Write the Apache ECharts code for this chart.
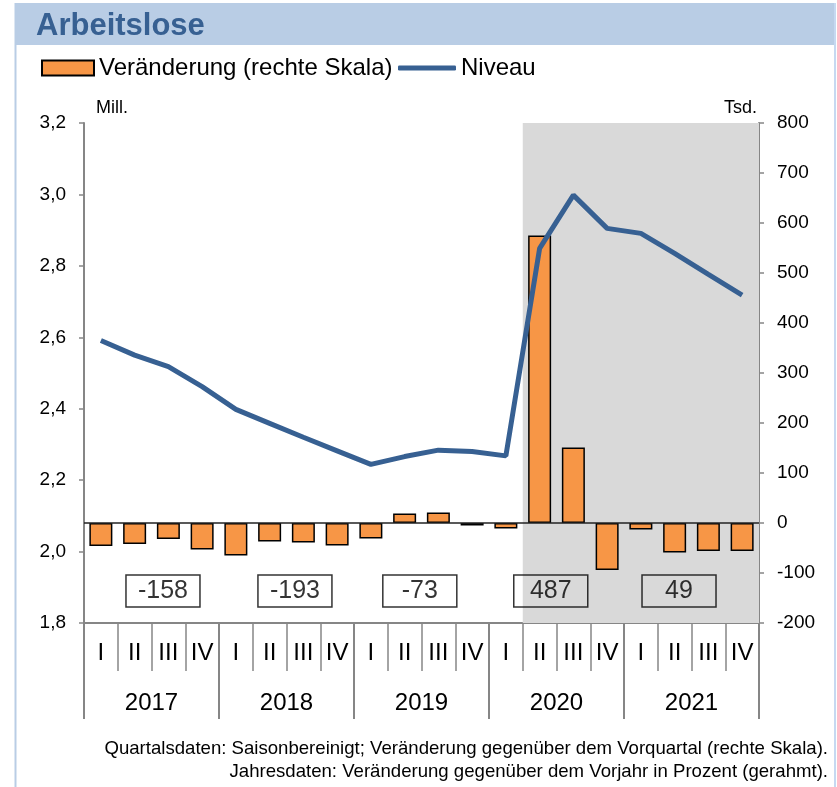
<!DOCTYPE html>
<html>
<head>
<meta charset="utf-8">
<script src="https://cdn.jsdelivr.net/npm/echarts@6/dist/echarts.min.js"></script>
<style>
html,body{margin:0;padding:0;background:#fff;}
#main{width:837px;height:787px;}
</style>
</head>
<body>
<div id="main"></div>
<script>
// Quartale 2017-2021
var quarters = ['I','II','III','IV','I','II','III','IV','I','II','III','IV','I','II','III','IV','I','II','III','IV'];
var years = ['2017','2018','2019','2020','2021'];
// Veränderung gg. Vorquartal, Tsd. (rechte Skala)
var change = [-46,-42,-32,-53,-65,-37,-39,-45,-31,19,21,-5,-11,575,151,-94,-13,-59,-56,-56];
// Niveau, Mill.
var level = [2.591,2.550,2.518,2.462,2.398,2.359,2.320,2.282,2.244,2.266,2.284,2.280,2.268,2.849,2.998,2.905,2.891,2.835,2.776,2.718];
// Jahresdaten (gerahmt)
var yearly = ['-158','-193','-73','487','49'];
var boxPos = [2.34,6.25,9.95,13.83,17.63];

var sans = '"Liberation Sans",Arial,sans-serif';
var axisGray = '#868686';

var chart = echarts.init(document.getElementById('main'));

var option = {
	backgroundColor: '#fff',
	animation: false,
	textStyle: {fontFamily: sans, color: '#000'},
	graphic: [
		{type: 'rect', shape: {x: 15, y: 3, width: 820, height: 42}, style: {fill: '#b9cde5'}, z: 0},
		{type: 'line', shape: {x1: 15.5, y1: 3, x2: 15.5, y2: 787}, style: {stroke: '#b9cde5', lineWidth: 2}},
		{type: 'line', shape: {x1: 835, y1: 3, x2: 835, y2: 787}, style: {stroke: '#c6d9f1', lineWidth: 2}},
		{type: 'text', left: 36, top: 11, style: {text: 'Arbeitslose', font: 'bold 31px ' + sans, fill: '#376092'}},
		{type: 'text', right: 9, top: 739, style: {text: 'Quartalsdaten: Saisonbereinigt; Veränderung gegenüber dem Vorquartal (rechte Skala).', font: '18.6px ' + sans, fill: '#000'}},
		{type: 'text', right: 9, top: 762, style: {text: 'Jahresdaten: Veränderung gegenüber dem Vorjahr in Prozent (gerahmt).', font: '18.6px ' + sans, fill: '#000'}}
	],
	legend: [
		{
			data: [{name: 'Veränderung (rechte Skala)', icon: 'rect'}],
			left: 41, top: 56, padding: 0,
			itemWidth: 52, itemHeight: 15,
			textStyle: {fontSize: 24, color: '#000', fontFamily: sans}
		},
		{
			data: [{name: 'Niveau', icon: 'roundRect'}],
			left: 398, top: 56, padding: 0,
			itemWidth: 58, itemHeight: 5,
			textStyle: {fontSize: 24, color: '#000', fontFamily: sans}
		}
	],
	grid: {left: 84, right: 78, top: 123, bottom: 164, containLabel: false},
	xAxis: [
		{
			type: 'category',
			data: quarters,
			position: 'bottom',
			axisLine: {onZero: false, lineStyle: {color: axisGray, width: 2}},
			axisTick: {show: true, length: 48, interval: 0, lineStyle: {color: axisGray, width: 1.5}},
			axisLabel: {interval: 0, margin: 18, fontSize: 24, color: '#000'},
			splitLine: {show: false}
		},
		{
			type: 'category',
			data: years,
			position: 'bottom',
			axisLine: {show: false, onZero: false},
			axisTick: {show: true, length: 96, interval: 0, lineStyle: {color: axisGray, width: 2}},
			axisLabel: {interval: 0, margin: 68, fontSize: 24, color: '#000'},
			splitLine: {show: false}
		},
		{
			type: 'value', min: 0, max: 20, show: false
		}
	],
	yAxis: [
		{
			type: 'value',
			min: 1.8, max: 3.2, interval: 0.2,
			position: 'left',
			name: 'Mill.',
			nameLocation: 'end',
			nameGap: 6,
			nameTextStyle: {fontSize: 18, color: '#000', align: 'left', padding: [0, 0, 0, 12]},
			axisLine: {show: true, onZero: false, lineStyle: {color: axisGray, width: 2}},
			axisTick: {show: true, length: 5, lineStyle: {color: axisGray, width: 1.5}},
			axisLabel: {
				margin: 18, fontSize: 19, color: '#000',
				formatter: function(v) { return v.toFixed(1).replace('.', ','); }
			},
			splitLine: {show: false}
		},
		{
			type: 'value',
			min: -200, max: 800, interval: 100,
			position: 'right',
			name: 'Tsd.',
			nameLocation: 'end',
			nameGap: 6,
			nameTextStyle: {fontSize: 18, color: '#000', align: 'right', padding: [0, 2, 0, 0]},
			axisLine: {show: true, onZero: false, lineStyle: {color: axisGray, width: 2}},
			axisTick: {show: true, length: 5, lineStyle: {color: axisGray, width: 1.5}},
			axisLabel: {margin: 18, fontSize: 19, color: '#000'},
			splitLine: {show: false}
		}
	],
	series: [
		{
			// grauer Bereich ab 2020 II
			type: 'scatter',
			xAxisIndex: 2, yAxisIndex: 1,
			data: [],
			z: 1,
			silent: true,
			markArea: {
				silent: true,
				itemStyle: {color: '#d9d9d9'},
				data: [[{xAxis: 13}, {xAxis: 20}]]
			}
		},
		{
			name: 'Veränderung (rechte Skala)',
			type: 'bar',
			xAxisIndex: 0, yAxisIndex: 1,
			data: change,
			barWidth: 23,
			z: 2,
			itemStyle: {color: '#f79646', borderColor: '#000', borderWidth: 1.5},
			markLine: {
				silent: true,
				symbol: 'none',
				label: {show: false},
				lineStyle: {color: '#222', width: 1.5, type: 'solid'},
				data: [{yAxis: 0}]
			}
		},
		{
			name: 'Niveau',
			type: 'line',
			xAxisIndex: 0, yAxisIndex: 0,
			data: level,
			z: 3,
			symbol: 'none',
			lineStyle: {color: '#376092', width: 5},
			itemStyle: {color: '#376092'}
		},
		{
			type: 'scatter',
			xAxisIndex: 2, yAxisIndex: 1,
			z: 4,
			symbolSize: 1,
			itemStyle: {color: 'rgba(0,0,0,0)'},
			data: yearly.map(function(t, i) { return {value: [boxPos[i], -136], name: t}; }),
			label: {
				show: true,
				position: 'inside',
				formatter: function(p) { return p.name; },
				fontSize: 25,
				color: '#000',
				borderColor: '#000',
				borderWidth: 1.5,
				width: 74,
				height: 32,
				lineHeight: 32,
				align: 'center',
				verticalAlign: 'middle'
			}
		}
	]
};

chart.setOption(option);
</script>
</body>
</html>
